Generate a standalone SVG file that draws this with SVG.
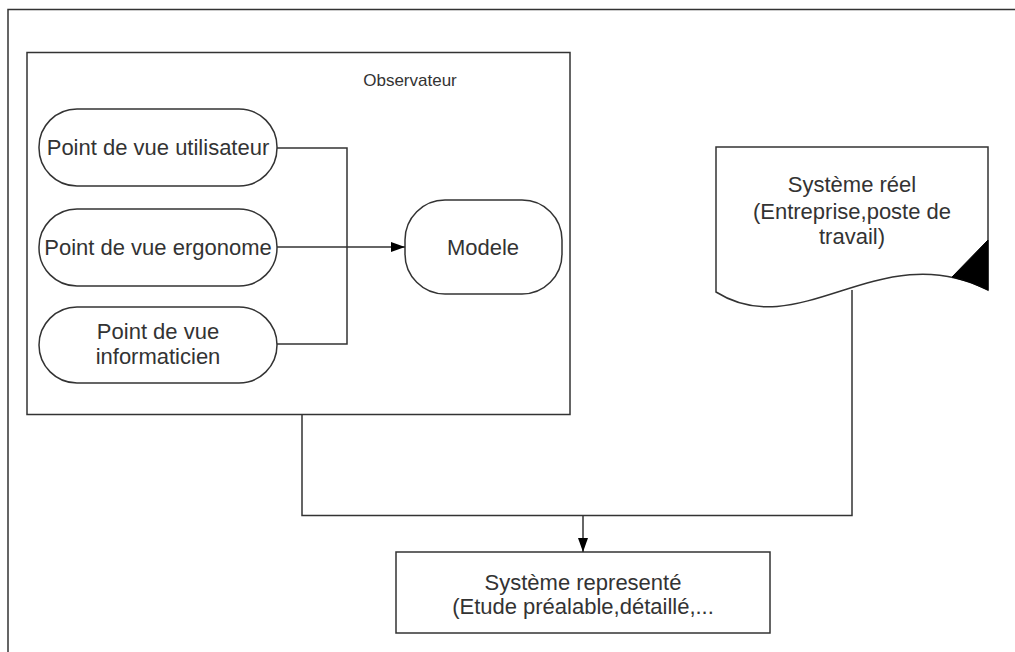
<svg xmlns="http://www.w3.org/2000/svg" width="1015" height="652" viewBox="0 0 1015 652">
<defs>
<style>
.shape{fill:#fff;stroke:#333;stroke-width:1.5}
.line{fill:none;stroke:#333;stroke-width:1.5}
.t{font-family:"Liberation Sans",Arial,sans-serif;font-size:22px;fill:#333;text-anchor:middle}
.s{font-family:"Liberation Sans",Arial,sans-serif;font-size:17px;fill:#333;text-anchor:middle}
</style>
<marker id="arr" viewBox="0 0 14 10" refX="14" refY="5" markerWidth="14" markerHeight="10" markerUnits="userSpaceOnUse" orient="auto">
<path d="M0,0 L14,5 L0,10 Z" fill="#000"/>
</marker>
</defs>
<rect width="1015" height="652" fill="#fff"/>
<rect x="8" y="9.5" width="1030" height="670" fill="none" stroke="#333" stroke-width="1.5"/>
<g id="observateur">
<rect class="shape" x="27" y="52.5" width="543" height="362"/>
<text class="s" x="410" y="86">Observateur</text>
</g>
<g id="pv-utilisateur">
<rect class="shape" x="39" y="109" width="238" height="77" rx="38" ry="38"/>
<text class="t" x="158" y="155">Point de vue utilisateur</text>
</g>
<g id="pv-ergonome">
<rect class="shape" x="39" y="209" width="238" height="77" rx="38" ry="38"/>
<text class="t" x="158" y="255">Point de vue ergonome</text>
</g>
<g id="pv-informaticien">
<rect class="shape" x="39" y="307" width="238" height="76" rx="38" ry="38"/>
<text class="t" x="158" y="339">Point de vue</text>
<text class="t" x="158" y="364">informaticien</text>
</g>
<g id="modele">
<rect class="shape" x="405" y="200" width="157" height="94" rx="40" ry="40"/>
<text class="t" x="483" y="255">Modele</text>
</g>
<g id="systeme-reel">
<path class="shape" d="M716,147 L988,147 L988,290 C880,235 800,345 716,292 Z"/>
<path d="M988,240 L952,277 Q970,281 988,290 Z" fill="#000" stroke="#000" stroke-width="1"/>
<text class="t" x="852" y="192">Système réel</text>
<text class="t" x="852" y="219">(Entreprise,poste de</text>
<text class="t" x="852" y="244">travail)</text>
</g>
<g id="systeme-represente">
<rect class="shape" x="396" y="552" width="374" height="81"/>
<text class="t" x="583" y="590">Système representé</text>
<text class="t" x="583" y="614">(Etude préalable,détaillé,...</text>
</g>
<g id="connectors">
<path class="line" d="M277,148 L347,148 L347,344 L277,344"/>
<path class="line" d="M277,247 L405,247" marker-end="url(#arr)"/>
<path class="line" d="M302,415 L302,515.5 L852,515.5 L852,290"/>
<path class="line" d="M583,515.5 L583,552" marker-end="url(#arr)"/>
</g>
</svg>
